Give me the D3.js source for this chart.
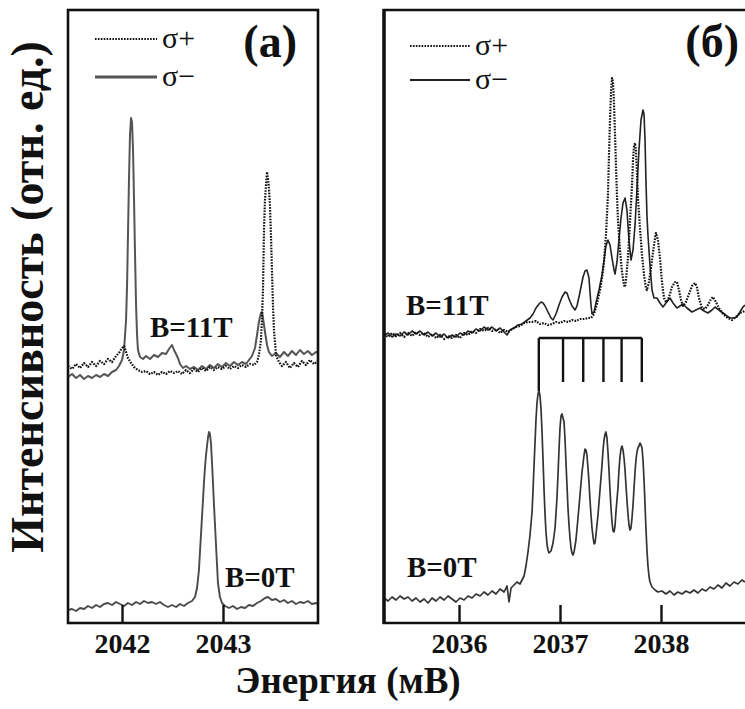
<!DOCTYPE html>
<html><head><meta charset="utf-8">
<script src="https://cdn.jsdelivr.net/npm/d3@7"></script>
<style>
body{margin:0;background:#fff}
svg{display:block}
text{font-family:"Liberation Serif","Times New Roman",serif;fill:#111}
</style>
</head><body>
<svg id="chart" width="745" height="709"></svg>
<script>
// Photoluminescence spectra, energy in meV, intensity in arbitrary units (stacked).
// Panel (a): single line 2042-2043 meV
const ticksA = [2042, 2043];
const sigmaPlusA11 = [
[2041.465,25.7],[2041.505,25.4],[2041.545,25.9],[2041.584,25.5],[2041.624,26.0],[2041.663,25.6],[2041.703,26.1],[2041.743,25.7],[2041.782,26.2],[2041.822,25.9],[2041.861,26.4],[2041.901,26.1],[2041.941,26.7],[2041.970,27.0],[2042.000,27.5],[2042.020,27.7],[2042.040,27.1],[2042.059,26.5],[2042.089,26.0],[2042.119,25.6],[2042.158,25.3],[2042.198,25.1],[2042.238,25.2],[2042.277,24.9],[2042.317,25.1],[2042.356,24.8],[2042.396,25.1],[2042.436,24.9],[2042.475,25.2],[2042.515,25.0],[2042.554,25.2],[2042.594,24.9],[2042.634,25.3],[2042.673,25.0],[2042.713,25.4],[2042.752,25.1],[2042.792,25.5],[2042.832,25.2],[2042.871,25.6],[2042.911,25.3],[2042.950,25.6],[2042.990,25.4],[2043.030,25.7],[2043.069,25.4],[2043.109,25.7],[2043.148,25.5],[2043.188,25.8],[2043.228,25.6],[2043.267,25.9],[2043.307,25.8],[2043.337,26.1],[2043.356,26.8],[2043.376,28.3],[2043.386,30.3],[2043.396,33.3],[2043.406,39.3],[2043.416,42.3],[2043.426,43.8],[2043.436,45.1],[2043.445,44.5],[2043.455,43.5],[2043.465,41.8],[2043.475,38.8],[2043.485,35.3],[2043.495,31.8],[2043.505,29.3],[2043.525,26.8],[2043.554,26.1],[2043.584,25.7],[2043.624,26.1],[2043.663,25.5],[2043.703,26.0],[2043.742,25.6],[2043.782,26.2],[2043.822,25.8],[2043.861,26.3],[2043.901,25.9],[2043.940,26.2]
];
const sigmaMinusA11 = [
[2041.465,24.6],[2041.505,24.9],[2041.545,24.5],[2041.584,24.8],[2041.624,24.4],[2041.663,24.7],[2041.703,24.5],[2041.743,24.8],[2041.782,24.6],[2041.822,24.9],[2041.861,24.7],[2041.901,25.1],[2041.941,25.3],[2041.970,25.7],[2042.000,26.3],[2042.020,27.3],[2042.040,30.3],[2042.050,33.8],[2042.059,38.8],[2042.069,44.3],[2042.079,48.8],[2042.089,50.5],[2042.099,50.1],[2042.109,47.3],[2042.119,42.3],[2042.129,36.8],[2042.139,31.8],[2042.149,28.8],[2042.158,27.3],[2042.178,26.6],[2042.208,26.4],[2042.238,26.7],[2042.277,26.4],[2042.317,26.8],[2042.356,26.6],[2042.396,27.0],[2042.436,26.9],[2042.465,27.4],[2042.495,27.8],[2042.515,27.3],[2042.535,26.9],[2042.554,26.5],[2042.574,25.9],[2042.604,25.5],[2042.634,25.7],[2042.673,25.4],[2042.713,25.6],[2042.752,25.3],[2042.792,25.7],[2042.832,25.4],[2042.871,25.8],[2042.911,25.5],[2042.950,25.9],[2042.990,25.6],[2043.030,26.0],[2043.069,25.7],[2043.109,26.1],[2043.148,25.8],[2043.188,26.1],[2043.228,25.9],[2043.257,26.3],[2043.287,26.7],[2043.317,27.5],[2043.337,28.8],[2043.356,30.1],[2043.376,31.0],[2043.386,31.1],[2043.396,30.5],[2043.416,29.1],[2043.436,27.8],[2043.455,27.1],[2043.485,26.7],[2043.525,27.0],[2043.564,26.6],[2043.604,27.1],[2043.643,26.7],[2043.683,27.2],[2043.723,26.8],[2043.762,27.3],[2043.802,26.9],[2043.841,27.2],[2043.881,26.8],[2043.921,27.1],[2043.940,27.0]
];
const zeroFieldA = [
[2041.465,1.3],[2041.505,1.4],[2041.545,1.2],[2041.584,1.5],[2041.624,1.4],[2041.663,1.7],[2041.703,1.5],[2041.743,1.8],[2041.782,1.6],[2041.822,1.9],[2041.861,2.0],[2041.901,1.8],[2041.941,2.1],[2041.980,1.9],[2042.020,1.7],[2042.059,2.0],[2042.099,1.8],[2042.139,2.1],[2042.178,1.9],[2042.218,2.2],[2042.257,2.0],[2042.297,2.1],[2042.337,1.9],[2042.376,2.1],[2042.416,1.8],[2042.455,1.6],[2042.495,1.8],[2042.535,1.6],[2042.574,1.9],[2042.614,1.7],[2042.653,2.0],[2042.693,2.2],[2042.723,2.6],[2042.743,3.5],[2042.762,5.3],[2042.772,7.1],[2042.782,8.8],[2042.792,10.6],[2042.802,12.3],[2042.812,14.1],[2042.822,15.6],[2042.832,16.8],[2042.842,17.7],[2042.851,18.5],[2042.861,19.1],[2042.871,18.9],[2042.881,18.0],[2042.891,16.1],[2042.901,14.0],[2042.911,11.8],[2042.921,9.8],[2042.931,7.8],[2042.941,5.8],[2042.950,4.0],[2042.970,2.6],[2042.990,2.0],[2043.020,1.7],[2043.059,1.5],[2043.099,1.7],[2043.139,1.4],[2043.178,1.6],[2043.218,1.5],[2043.257,1.8],[2043.297,1.7],[2043.337,2.0],[2043.376,2.2],[2043.416,2.5],[2043.445,2.6],[2043.485,2.3],[2043.525,2.4],[2043.564,2.1],[2043.604,2.3],[2043.643,2.0],[2043.683,2.2],[2043.723,1.9],[2043.762,2.1],[2043.802,2.0],[2043.841,2.2],[2043.881,1.9],[2043.921,2.0],[2043.940,1.9]
];

// Panel (б): fine structure 2036-2038 meV
const ticksB = [2036, 2037, 2038];
const combEnergies = [2036.79, 2037.03, 2037.23, 2037.43, 2037.61, 2037.81];
const combTop = 28.5;
const combBottoms = [23.2, 24.1, 24.1, 24.1, 24.1, 24.1];
const sigmaPlusB11 = [
[2035.258,28.9],[2035.297,28.6],[2035.337,29.0],[2035.376,28.7],[2035.416,29.0],[2035.456,28.6],[2035.495,29.0],[2035.535,28.7],[2035.574,29.1],[2035.614,28.8],[2035.654,29.0],[2035.693,28.6],[2035.733,28.9],[2035.772,28.5],[2035.812,28.8],[2035.852,28.4],[2035.891,28.7],[2035.931,28.5],[2035.970,28.8],[2036.010,28.5],[2036.050,29.0],[2036.089,28.8],[2036.129,29.2],[2036.168,29.0],[2036.208,29.4],[2036.248,29.2],[2036.287,29.5],[2036.327,29.2],[2036.366,29.4],[2036.406,29.0],[2036.446,29.3],[2036.485,29.1],[2036.525,29.4],[2036.564,29.6],[2036.604,29.7],[2036.644,30.0],[2036.683,30.1],[2036.723,30.1],[2036.762,30.2],[2036.802,29.9],[2036.842,30.0],[2036.881,29.8],[2036.921,29.9],[2036.960,30.1],[2037.000,30.0],[2037.040,30.2],[2037.079,30.1],[2037.119,30.3],[2037.158,30.2],[2037.198,30.4],[2037.238,30.4],[2037.277,30.5],[2037.307,30.5],[2037.337,30.9],[2037.366,31.9],[2037.396,33.3],[2037.416,34.5],[2037.436,36.1],[2037.455,38.8],[2037.475,42.8],[2037.485,46.8],[2037.495,50.3],[2037.505,53.1],[2037.515,54.5],[2037.525,54.1],[2037.535,51.8],[2037.545,48.8],[2037.554,45.8],[2037.564,42.8],[2037.574,40.3],[2037.594,37.3],[2037.614,35.1],[2037.634,33.8],[2037.644,33.6],[2037.653,34.3],[2037.673,36.5],[2037.693,40.1],[2037.713,43.8],[2037.723,46.3],[2037.733,47.7],[2037.743,48.0],[2037.752,47.3],[2037.762,45.1],[2037.772,42.5],[2037.792,39.5],[2037.812,36.8],[2037.832,34.8],[2037.851,33.5],[2037.861,33.3],[2037.881,34.1],[2037.901,35.5],[2037.921,37.1],[2037.941,38.5],[2037.950,39.0],[2037.970,38.3],[2037.990,36.5],[2038.010,34.1],[2038.030,32.5],[2038.049,32.1],[2038.069,32.3],[2038.089,32.9],[2038.109,33.6],[2038.139,34.1],[2038.158,34.1],[2038.178,33.3],[2038.198,32.3],[2038.218,31.7],[2038.247,32.1],[2038.277,32.9],[2038.307,33.7],[2038.337,34.0],[2038.356,33.6],[2038.376,32.5],[2038.406,31.5],[2038.436,31.4],[2038.465,31.8],[2038.495,32.4],[2038.515,32.6],[2038.544,32.1],[2038.584,31.3],[2038.624,30.8],[2038.663,30.5],[2038.703,30.3],[2038.742,30.6],[2038.782,31.0],[2038.832,31.2]
];
const sigmaMinusB11 = [
[2035.258,28.7],[2035.297,29.0],[2035.337,28.6],[2035.376,28.9],[2035.416,28.7],[2035.456,29.1],[2035.495,28.8],[2035.535,29.2],[2035.574,28.9],[2035.614,29.2],[2035.654,28.8],[2035.693,29.1],[2035.733,28.7],[2035.772,29.0],[2035.812,28.6],[2035.852,28.9],[2035.891,28.5],[2035.931,28.8],[2035.970,28.6],[2036.010,29.0],[2036.050,28.8],[2036.089,29.2],[2036.129,29.0],[2036.168,29.4],[2036.208,29.2],[2036.248,29.6],[2036.287,29.3],[2036.327,29.6],[2036.366,29.2],[2036.406,29.5],[2036.446,29.1],[2036.475,28.8],[2036.505,29.3],[2036.545,29.5],[2036.584,29.8],[2036.624,29.9],[2036.663,30.2],[2036.703,30.5],[2036.733,30.9],[2036.762,31.5],[2036.792,31.9],[2036.812,32.1],[2036.832,32.0],[2036.852,31.7],[2036.881,31.1],[2036.911,30.5],[2036.931,30.3],[2036.960,30.9],[2036.990,31.8],[2037.020,32.6],[2037.050,33.1],[2037.069,33.0],[2037.089,32.4],[2037.119,31.7],[2037.149,31.3],[2037.168,31.7],[2037.188,32.6],[2037.208,33.6],[2037.228,34.6],[2037.248,35.2],[2037.267,35.3],[2037.287,34.5],[2037.297,33.1],[2037.307,31.8],[2037.317,30.9],[2037.337,31.1],[2037.356,32.0],[2037.386,33.3],[2037.416,34.8],[2037.436,36.3],[2037.455,37.7],[2037.475,38.3],[2037.495,37.8],[2037.515,36.5],[2037.535,35.3],[2037.545,34.9],[2037.564,36.1],[2037.584,38.3],[2037.604,40.5],[2037.624,42.0],[2037.644,42.5],[2037.663,41.3],[2037.683,38.3],[2037.703,36.3],[2037.723,37.3],[2037.743,39.8],[2037.762,43.3],[2037.782,47.3],[2037.802,50.3],[2037.822,51.3],[2037.832,50.9],[2037.842,48.3],[2037.851,44.3],[2037.861,40.8],[2037.871,38.8],[2037.891,35.8],[2037.911,33.3],[2037.931,32.5],[2037.960,32.5],[2037.990,32.0],[2038.020,31.6],[2038.049,32.0],[2038.089,32.5],[2038.119,32.0],[2038.158,31.5],[2038.188,31.7],[2038.218,31.9],[2038.257,31.5],[2038.307,31.1],[2038.346,31.3],[2038.386,31.5],[2038.426,31.2],[2038.465,31.0],[2038.505,31.3],[2038.535,31.6],[2038.574,31.3],[2038.614,31.0],[2038.653,30.7],[2038.683,30.5],[2038.723,30.5],[2038.752,30.6],[2038.782,31.1],[2038.812,31.6],[2038.832,31.8]
];
const zeroFieldB = [
[2035.258,2.5],[2035.297,2.2],[2035.337,2.6],[2035.376,2.3],[2035.416,2.7],[2035.456,2.4],[2035.495,2.6],[2035.535,2.2],[2035.574,2.5],[2035.614,2.1],[2035.654,2.4],[2035.693,2.0],[2035.733,2.5],[2035.772,2.2],[2035.812,2.6],[2035.852,2.3],[2035.891,2.7],[2035.931,2.4],[2035.970,2.1],[2036.010,2.5],[2036.050,2.3],[2036.089,2.7],[2036.129,2.5],[2036.168,2.9],[2036.208,2.7],[2036.248,3.1],[2036.287,2.8],[2036.327,3.2],[2036.366,2.9],[2036.406,3.4],[2036.446,3.1],[2036.475,3.7],[2036.495,2.1],[2036.515,3.5],[2036.545,3.8],[2036.574,4.1],[2036.604,3.9],[2036.624,4.3],[2036.644,4.7],[2036.663,5.7],[2036.683,7.1],[2036.703,8.8],[2036.723,11.1],[2036.733,13.3],[2036.743,15.8],[2036.753,18.1],[2036.762,20.3],[2036.772,22.0],[2036.782,22.9],[2036.792,23.2],[2036.802,22.7],[2036.812,21.4],[2036.822,19.1],[2036.832,16.3],[2036.842,13.3],[2036.852,10.8],[2036.861,9.1],[2036.871,7.9],[2036.881,7.3],[2036.891,7.0],[2036.911,7.2],[2036.931,8.0],[2036.951,9.5],[2036.970,12.5],[2036.980,14.8],[2036.990,17.3],[2037.000,19.5],[2037.010,20.7],[2037.020,20.9],[2037.030,20.5],[2037.040,20.1],[2037.050,18.3],[2037.059,16.1],[2037.069,13.8],[2037.079,11.5],[2037.089,9.8],[2037.099,8.5],[2037.109,7.5],[2037.119,7.0],[2037.129,6.8],[2037.139,7.1],[2037.158,8.3],[2037.178,10.5],[2037.198,12.8],[2037.218,15.1],[2037.238,16.8],[2037.248,17.4],[2037.257,17.3],[2037.267,16.8],[2037.277,15.5],[2037.287,14.1],[2037.297,12.3],[2037.307,10.8],[2037.317,9.5],[2037.327,8.6],[2037.337,7.9],[2037.347,8.0],[2037.356,8.8],[2037.376,10.8],[2037.396,13.3],[2037.416,15.8],[2037.426,17.3],[2037.436,18.3],[2037.446,18.9],[2037.455,19.1],[2037.465,18.5],[2037.475,17.1],[2037.485,15.3],[2037.495,13.3],[2037.505,11.5],[2037.515,10.1],[2037.525,9.2],[2037.535,9.1],[2037.545,9.7],[2037.554,11.1],[2037.574,13.5],[2037.584,15.3],[2037.594,16.6],[2037.604,17.4],[2037.614,17.7],[2037.624,17.3],[2037.634,16.5],[2037.644,15.3],[2037.653,13.8],[2037.663,12.3],[2037.673,10.9],[2037.683,9.8],[2037.693,9.3],[2037.703,9.5],[2037.713,10.5],[2037.723,11.8],[2037.733,13.5],[2037.743,15.1],[2037.752,16.3],[2037.762,17.1],[2037.772,17.5],[2037.782,17.7],[2037.792,18.0],[2037.802,17.8],[2037.812,17.5],[2037.822,16.3],[2037.832,14.3],[2037.842,11.8],[2037.851,9.5],[2037.861,7.3],[2037.871,5.7],[2037.881,4.7],[2037.891,4.1],[2037.911,3.6],[2037.941,3.3],[2037.970,3.1],[2038.010,3.2],[2038.049,2.9],[2038.089,3.2],[2038.129,2.8],[2038.168,3.1],[2038.208,2.9],[2038.247,3.2],[2038.287,3.0],[2038.327,3.3],[2038.366,3.0],[2038.406,3.4],[2038.445,3.2],[2038.485,3.6],[2038.525,3.4],[2038.564,3.8],[2038.604,3.5],[2038.643,4.0],[2038.683,3.7],[2038.723,4.1],[2038.762,3.9],[2038.802,4.3],[2038.832,4.1]
];

const fieldLabels = ["B=11T", "B=0T"];
const legendLabels = ["σ+", "σ−"];

// ---------- layout ----------
const svg = d3.select("#chart");
const plotTop = 10, plotBottom = 623;
const y = d3.scaleLinear().domain([0, 61.3]).range([plotBottom, plotTop]);
const xA = d3.scaleLinear().domain([2041.465, 2043.941]).range([68, 318]);
const xB = d3.scaleLinear().domain([2035.257, 2038.832]).range([384, 745]);

const defs = svg.append("defs");
defs.append("clipPath").attr("id", "clipA").append("rect")
  .attr("x", 68).attr("y", plotTop).attr("width", 250).attr("height", plotBottom - plotTop);
defs.append("clipPath").attr("id", "clipB").append("rect")
  .attr("x", 384).attr("y", plotTop).attr("width", 361).attr("height", plotBottom - plotTop);

const dotted = {stroke: "#111", width: 2.2, dash: "1.6,1.3"};

function drawCurve(g, x, data, stroke, width, dash) {
  const line = d3.line().x(d => x(d[0])).y(d => y(d[1]));
  g.append("path").datum(data)
    .attr("d", line)
    .attr("fill", "none")
    .attr("stroke", stroke)
    .attr("stroke-width", width)
    .attr("stroke-linejoin", "round")
    .attr("stroke-dasharray", dash || null);
}

// ---------- panel (a) ----------
const gA = svg.append("g").attr("clip-path", "url(#clipA)");
drawCurve(gA, xA, zeroFieldA, "#4a4a4a", 1.9);
drawCurve(gA, xA, sigmaMinusA11, "#555", 2.0);
drawCurve(gA, xA, sigmaPlusA11, dotted.stroke, dotted.width, dotted.dash);

svg.append("rect").attr("x", 68).attr("y", plotTop).attr("width", 250).attr("height", plotBottom - plotTop)
  .attr("fill", "none").attr("stroke", "#111").attr("stroke-width", 2.6);

const axA = svg.append("g").attr("transform", `translate(0,${plotBottom})`)
  .call(d3.axisBottom(xA).tickValues(ticksA).tickSize(-18).tickFormat(d3.format("d")));

// ---------- panel (б) ----------
const gB = svg.append("g").attr("clip-path", "url(#clipB)");
drawCurve(gB, xB, zeroFieldB, "#333", 1.7);
drawCurve(gB, xB, sigmaMinusB11, "#222", 1.6);
drawCurve(gB, xB, sigmaPlusB11, dotted.stroke, dotted.width, dotted.dash);

// level comb above the zero-field multiplet
gB.append("line")
  .attr("x1", xB(combEnergies[0])).attr("x2", xB(combEnergies[combEnergies.length - 1]))
  .attr("y1", y(combTop)).attr("y2", y(combTop))
  .attr("stroke", "#111").attr("stroke-width", 2.4);
gB.selectAll("line.comb").data(combEnergies).join("line").attr("class", "comb")
  .attr("x1", d => xB(d)).attr("x2", d => xB(d))
  .attr("y1", y(combTop)).attr("y2", (d, i) => y(combBottoms[i]))
  .attr("stroke", "#111").attr("stroke-width", 2.4);

svg.append("path")
  .attr("d", `M745,${plotTop}H384V${plotBottom}H745`)
  .attr("fill", "none").attr("stroke", "#111").attr("stroke-width", 2.6);
svg.append("line").attr("x1", 384).attr("x2", 384).attr("y1", plotTop - 1).attr("y2", plotBottom + 1)
  .attr("stroke", "#111").attr("stroke-width", 3.4);

const axB = svg.append("g").attr("transform", `translate(0,${plotBottom})`)
  .call(d3.axisBottom(xB).tickValues(ticksB).tickSize(-18).tickFormat(d3.format("d")));

[axA, axB].forEach(ax => {
  ax.select(".domain").remove();
  ax.selectAll(".tick line").attr("stroke", "#111").attr("stroke-width", 2.4);
  ax.selectAll(".tick text")
    .attr("y", 30).attr("dy", 0)
    .attr("font-family", "'Liberation Serif', serif")
    .attr("font-weight", "bold").attr("font-size", 28).attr("fill", "#111");
});

// ---------- labels ----------
function label(txt, x, yy, size, anchor, weight) {
  return svg.append("text").attr("x", x).attr("y", yy)
    .attr("font-size", size).attr("font-weight", weight || "bold")
    .attr("text-anchor", anchor || "start").text(txt);
}
label("(a)", 297, 57, 46, "end");
label("(б)", 739, 57, 46, "end");

label(fieldLabels[0], 150, 337, 29);
label(fieldLabels[1], 225, 587, 29);
label(fieldLabels[0], 406, 315, 29);
label(fieldLabels[1], 407, 577, 29);

// legends
function legend(x0, x1, yPlus, yMinus, solidColor, solidWidth) {
  svg.append("line").attr("x1", x0).attr("x2", x1).attr("y1", yPlus).attr("y2", yPlus)
    .attr("stroke", dotted.stroke).attr("stroke-width", dotted.width).attr("stroke-dasharray", dotted.dash);
  svg.append("line").attr("x1", x0).attr("x2", x1).attr("y1", yMinus).attr("y2", yMinus)
    .attr("stroke", solidColor).attr("stroke-width", solidWidth);
  label(legendLabels[0], x1 + 5, yPlus + 9, 30, "start", "normal");
  label(legendLabels[1], x1 + 5, yMinus + 9, 30, "start", "normal");
}
legend(95, 157, 39, 77, "#555", 2.8);
legend(410, 470, 46, 80, "#222", 2.2);

label("Энергия (мВ)", 348, 693, 37, "middle");
svg.append("text")
  .attr("transform", "translate(43,297) rotate(-90)")
  .attr("font-size", 46).attr("font-weight", "bold").attr("text-anchor", "middle")
  .text("Интенсивность (отн. ед.)");
</script>
</body></html>
